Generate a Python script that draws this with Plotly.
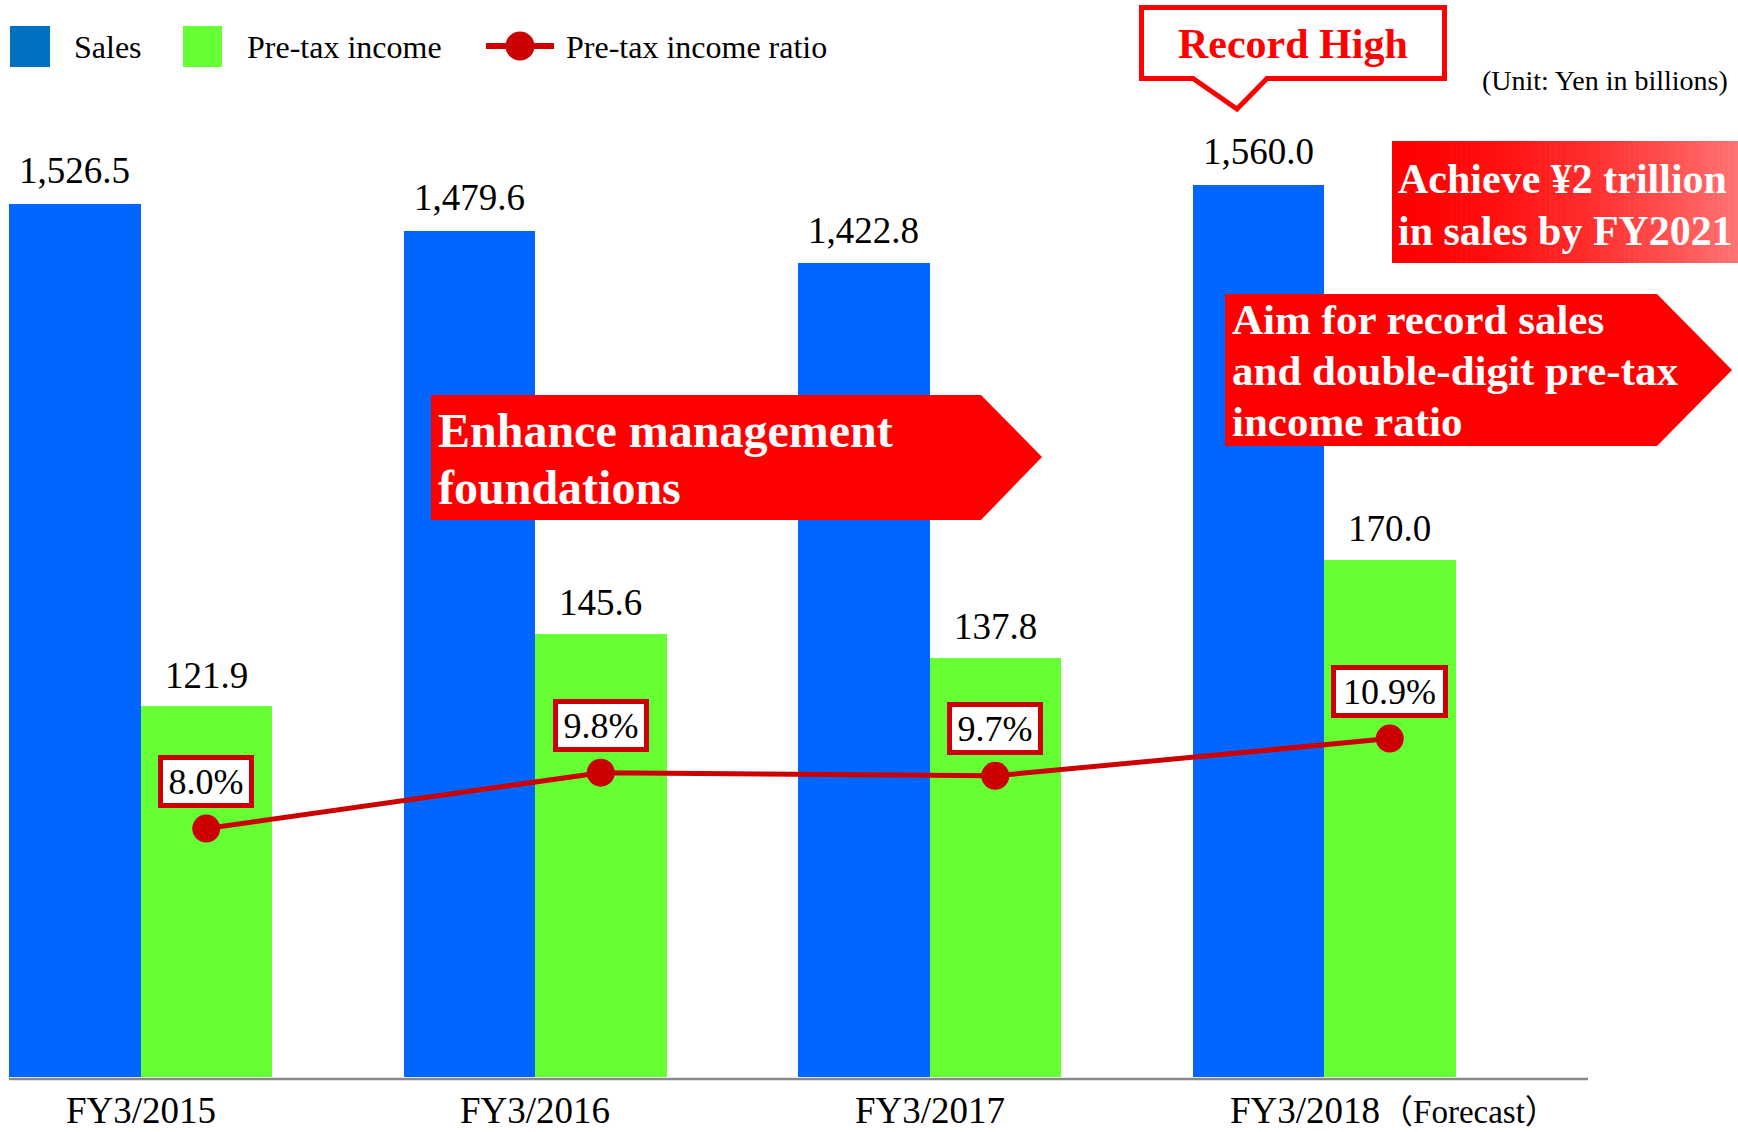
import plotly.graph_objects as go

# ---------------- data ----------------
categories = ["FY3/2015", "FY3/2016", "FY3/2017", "FY3/2018"]
category_suffix = ["", "", "", "（Forecast）"]
sales = [1526.5, 1479.6, 1422.8, 1560.0]
pretax_income = [121.9, 145.6, 137.8, 170.0]
pretax_ratio = [8.0, 9.8, 9.7, 10.9]

legend_names = ["Sales", "Pre-tax income", "Pre-tax income ratio"]
enhance_lines = ["Enhance management", "foundations"]
aim_lines = ["Aim for record sales", "and double-digit pre-tax", "income ratio"]
achieve_lines = ["Achieve ¥2 trillion", "in sales by FY2021"]
record_text = "Record High"
unit_text = "(Unit: Yen in billions)"

# ---------------- layout geometry (pixels) ----------------
W, H = 1738, 1132
BASE = 1077            # baseline pixel row
X0PX = 9               # left edge of first bar group
UNIT = 394.5           # pixels per category
BW = 1 / 3             # bar width (category units)
K_SALES = 0.5719       # px per yen-billion (sales axis)
K_PRETAX = 3.043       # px per yen-billion (pre-tax axis)
K_RATIO = 31.05        # px per percent

SERIF = "Liberation Serif, Times New Roman, serif"
BLUE, GREEN, RED, DARKRED = "#0066FF", "#66FF33", "#FF0000", "#CC0000"

def px(x):
    return x / W

def py(y):
    return 1 - y / H

def yrange(k):
    return [-(H - BASE) / k, BASE / k]

idx = list(range(len(categories)))
xr0 = -BW - X0PX / UNIT
xrange = [xr0, xr0 + W / UNIT]

fig = go.Figure()
fig.add_trace(go.Bar(x=idx, y=sales, width=BW, offset=-BW, marker=dict(color=BLUE, line=dict(width=0)),
                     yaxis="y", name=legend_names[0], showlegend=False))
fig.add_trace(go.Bar(x=idx, y=pretax_income, width=BW, offset=0, marker=dict(color=GREEN, line=dict(width=0)),
                     yaxis="y2", name=legend_names[1], showlegend=False))
fig.add_trace(go.Scatter(x=[i + BW / 2 for i in idx], y=pretax_ratio, mode="lines+markers",
                         line=dict(color=DARKRED, width=5), marker=dict(size=28, color=DARKRED),
                         yaxis="y3", name=legend_names[2], showlegend=False, cliponaxis=False))

ann = []
# value labels
for i in idx:
    ann.append(dict(x=i - BW / 2, y=sales[i], xref="x", yref="y", text=f"{sales[i]:,.1f}",
                    yanchor="middle", xanchor="center", yshift=33, showarrow=False,
                    font=dict(family=SERIF, size=37, color="black")))
    ann.append(dict(x=i + BW / 2, y=pretax_income[i], xref="x", yref="y2", text=f"{pretax_income[i]:,.1f}",
                    yanchor="middle", xanchor="center", yshift=31, showarrow=False,
                    font=dict(family=SERIF, size=37, color="black")))
    lbl = f"{pretax_ratio[i]:.1f}%"
    ann.append(dict(x=i + BW / 2, y=pretax_ratio[i], xref="x", yref="y3", text=lbl,
                    yanchor="middle", xanchor="center", yshift=47, showarrow=False,
                    width=86 if len(lbl) <= 4 else 107, height=43,
                    bordercolor=DARKRED, borderwidth=5, borderpad=0, bgcolor="white",
                    font=dict(family=SERIF, size=36, color="black")))
    # category labels
    if category_suffix[i]:
        ann.append(dict(x=i, y=py(1131), xref="x", yref="paper", xanchor="left", yanchor="bottom",
                        xshift=-94, showarrow=False, borderwidth=0, borderpad=0,
                        text=f"{categories[i]}<span style='font-size:33px'>{category_suffix[i]}</span>",
                        font=dict(family=SERIF + ", Noto Sans CJK JP", size=37, color="black")))
    else:
        ann.append(dict(x=i, y=py(1131), xref="x", yref="paper", xanchor="center", yanchor="bottom",
                        showarrow=False, borderwidth=0, borderpad=0, text=categories[i],
                        font=dict(family=SERIF, size=37, color="black")))

def txt(x, y, text, size, color="black", anchor="left", bold=False):
    return dict(x=px(x), y=py(y), xref="paper", yref="paper", xanchor=anchor, yanchor="middle",
                showarrow=False, borderwidth=0, borderpad=0,
                text=f"<b>{text}</b>" if bold else text,
                font=dict(family=SERIF, size=size, color=color))

# legend texts
ann.append(txt(74, 47, legend_names[0], 32))
ann.append(txt(247, 47, legend_names[1], 32))
ann.append(txt(566, 47, legend_names[2], 32))
# unit
ann.append(txt(1728, 80, unit_text, 28, anchor="right"))
# callout texts
ann.append(txt(1293, 43.5, record_text, 42, color=RED, anchor="center", bold=True))
for t, yc in zip(enhance_lines, [430.5, 487.5]):
    ann.append(txt(438, yc, t, 48, color="white", bold=True))
for t, yc in zip(aim_lines, [319, 370, 421]):
    ann.append(txt(1232, yc, t, 43, color="white", bold=True))
for t, yc in zip(achieve_lines, [179, 231]):
    ann.append(txt(1398, yc, t, 42, color="white", bold=True))

def poly(points):
    return "M " + " L ".join(f"{px(x):.5f},{py(y):.5f}" for x, y in points) + " Z"

shapes = []
# x axis line
shapes.append(dict(type="line", xref="paper", yref="paper", x0=px(9), x1=px(1588), y0=py(1079), y1=py(1079),
                   line=dict(color="#888888", width=2.5)))
# arrows
shapes.append(dict(type="path", xref="paper", yref="paper", fillcolor=RED, line=dict(width=0),
                   path=poly([(431, 395), (981, 395), (1042, 457), (981, 520), (431, 520)])))
shapes.append(dict(type="path", xref="paper", yref="paper", fillcolor=RED, line=dict(width=0),
                   path=poly([(1225, 294), (1657, 294), (1732, 370), (1657, 446), (1225, 446)])))
# gradient box
N = 70
gx0, gx1, gy0, gy1 = 1392, 1738, 141, 263
for k in range(N):
    t = k / (N - 1)
    m = 0.45 * t ** 1.6
    g = int(round(255 * m))
    a = gx0 + (gx1 - gx0) * k / N
    b = gx0 + (gx1 - gx0) * (k + 1) / N + 0.6
    shapes.append(dict(type="rect", xref="paper", yref="paper", x0=px(a), x1=px(min(b, gx1)), y0=py(gy0), y1=py(gy1),
                       fillcolor=f"rgb(255,{g},{g})", line=dict(width=0)))
# record high callout
shapes.append(dict(type="path", xref="paper", yref="paper", fillcolor="white", line=dict(color=RED, width=5),
                   path=poly([(1141.5, 7.5), (1444.5, 7.5), (1444.5, 78.5), (1267, 78.5), (1237, 109),
                              (1193, 78.5), (1141.5, 78.5)])))
# legend marks
shapes.append(dict(type="rect", xref="paper", yref="paper", x0=px(10), x1=px(50), y0=py(26), y1=py(67),
                   fillcolor="#0070C0", line=dict(width=0)))
shapes.append(dict(type="rect", xref="paper", yref="paper", x0=px(183), x1=px(222), y0=py(26), y1=py(67),
                   fillcolor=GREEN, line=dict(width=0)))
shapes.append(dict(type="line", xref="paper", yref="paper", x0=px(486), x1=px(554), y0=py(46), y1=py(46),
                   line=dict(color=DARKRED, width=6)))
shapes.append(dict(type="circle", xref="paper", yref="paper", x0=px(505.5), x1=px(534.5), y0=py(31.5), y1=py(60.5),
                   fillcolor=DARKRED, line=dict(width=0)))

ax_hidden = dict(visible=False, showgrid=False, zeroline=False, fixedrange=True)
fig.update_layout(
    width=W, height=H, margin=dict(l=0, r=0, t=0, b=0, pad=0),
    paper_bgcolor="white", plot_bgcolor="white", barmode="overlay", bargap=0,
    showlegend=False,
    xaxis=dict(range=xrange, **ax_hidden),
    yaxis=dict(range=yrange(K_SALES), **ax_hidden),
    yaxis2=dict(range=yrange(K_PRETAX), overlaying="y", **ax_hidden),
    yaxis3=dict(range=yrange(K_RATIO), overlaying="y", **ax_hidden),
    annotations=ann, shapes=shapes,
    font=dict(family=SERIF),
)

fig.write_html("out.html", config={"displayModeBar": False},
               post_script="document.body.style.margin='0';document.body.style.padding='0';document.body.style.overflow='hidden';")
